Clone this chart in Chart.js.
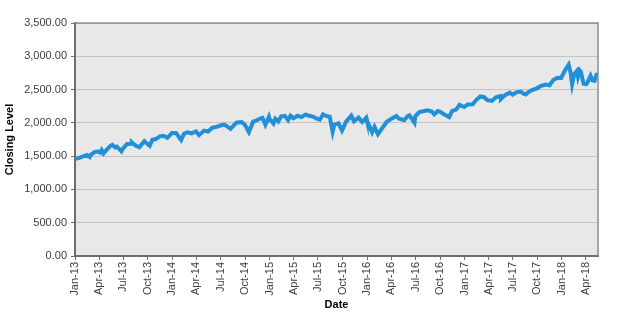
<!DOCTYPE html>
<html>
<head>
<meta charset="utf-8">
<script src="https://cdn.jsdelivr.net/npm/chart.js@4"></script>
<style>
  html, body { margin: 0; padding: 0; background: #fff; }
  #wrap { width: 622px; height: 320px; }
</style>
</head>
<body>
<div id="wrap"><canvas id="myChart"></canvas></div>
<script>
const dates = [
  "2013-01-02", "2013-01-15", "2013-01-31", "2013-02-15", "2013-02-25", "2013-02-28",
  "2013-03-15", "2013-03-28", "2013-04-05", "2013-04-11", "2013-04-18", "2013-04-30",
  "2013-05-15", "2013-05-21", "2013-05-31", "2013-06-07", "2013-06-24", "2013-06-28",
  "2013-07-15", "2013-07-31", "2013-08-02", "2013-08-15", "2013-08-30", "2013-09-18",
  "2013-09-30", "2013-10-08", "2013-10-18", "2013-10-31", "2013-11-15", "2013-11-29",
  "2013-12-13", "2013-12-31",
  "2014-01-15", "2014-02-03", "2014-02-14", "2014-02-28", "2014-03-14", "2014-03-31",
  "2014-04-11", "2014-04-30", "2014-05-15", "2014-05-30", "2014-06-13", "2014-06-30",
  "2014-07-15", "2014-07-31", "2014-08-07", "2014-08-29", "2014-09-18", "2014-09-30",
  "2014-10-15", "2014-10-31", "2014-11-14", "2014-11-28", "2014-12-05", "2014-12-16",
  "2014-12-29", "2014-12-31",
  "2015-01-15", "2015-01-22", "2015-02-02", "2015-02-13", "2015-02-27", "2015-03-11",
  "2015-03-20", "2015-03-31", "2015-04-15", "2015-04-30", "2015-05-15", "2015-05-29",
  "2015-06-12", "2015-06-29", "2015-07-08", "2015-07-20", "2015-07-31", "2015-08-14",
  "2015-08-25", "2015-08-31", "2015-09-16", "2015-09-29", "2015-10-15", "2015-11-03",
  "2015-11-13", "2015-11-30", "2015-12-14", "2015-12-29", "2015-12-31",
  "2016-01-20", "2016-01-29", "2016-02-11", "2016-02-29", "2016-03-15", "2016-03-31",
  "2016-04-20", "2016-04-29", "2016-05-19", "2016-05-31", "2016-06-08", "2016-06-27",
  "2016-06-30", "2016-07-15", "2016-07-29", "2016-08-15", "2016-08-31", "2016-09-09",
  "2016-09-22", "2016-09-30", "2016-10-14", "2016-11-04", "2016-11-15", "2016-11-30",
  "2016-12-13", "2016-12-30",
  "2017-01-13", "2017-01-31", "2017-02-15", "2017-03-01", "2017-03-15", "2017-03-27",
  "2017-04-13", "2017-04-28", "2017-05-15", "2017-05-17", "2017-05-31", "2017-06-19",
  "2017-06-30", "2017-07-14", "2017-07-31", "2017-08-10", "2017-08-18", "2017-08-31",
  "2017-09-15", "2017-09-29", "2017-10-13", "2017-10-31", "2017-11-15", "2017-11-30",
  "2017-12-15", "2017-12-29",
  "2018-01-12", "2018-01-26", "2018-02-02", "2018-02-08", "2018-02-16", "2018-02-26",
  "2018-03-02", "2018-03-09", "2018-03-13", "2018-03-23", "2018-04-02", "2018-04-06",
  "2018-04-18", "2018-04-25", "2018-05-03", "2018-05-10", "2018-05-16"
];

const closes = [
  1462, 1472, 1498, 1519, 1488, 1515,
  1560, 1569, 1553, 1593, 1541, 1597,
  1658, 1669, 1631, 1643, 1573, 1606,
  1683, 1686, 1709, 1661, 1633, 1725,
  1682, 1656, 1745, 1757, 1798, 1806,
  1775, 1848,
  1848, 1742, 1838, 1859, 1841, 1872,
  1815, 1884, 1870, 1924, 1937, 1960,
  1973, 1931, 1910, 2003, 2011, 1972,
  1862, 2018, 2039, 2068, 2075, 1972,
  2090, 2059,
  1992, 2063, 2021, 2097, 2105, 2040,
  2108, 2068, 2106, 2086, 2123, 2107,
  2094, 2058, 2047, 2128, 2104, 2092,
  1868, 1972, 1995, 1884, 2023, 2109,
  2023, 2080, 2012, 2078, 2044,
  1859, 1940, 1829, 1932, 2016, 2060,
  2102, 2065, 2040, 2097, 2112, 2001,
  2099, 2162, 2174, 2190, 2171, 2128,
  2177, 2168, 2133, 2085, 2180, 2199,
  2272, 2239,
  2275, 2279, 2350, 2396, 2385, 2342,
  2329, 2384, 2402, 2357, 2412, 2453,
  2423, 2459, 2470, 2438, 2426, 2472,
  2500, 2519, 2553, 2575, 2565, 2648,
  2676, 2674,
  2786, 2873, 2762, 2581, 2732, 2780,
  2691, 2786, 2766, 2588, 2582, 2604,
  2708, 2639, 2630, 2723, 2722
];

const tickDates = [
  "2013-01-01", "2013-04-01", "2013-07-01", "2013-10-01",
  "2014-01-01", "2014-04-01", "2014-07-01", "2014-10-01",
  "2015-01-01", "2015-04-01", "2015-07-01", "2015-10-01",
  "2016-01-01", "2016-04-01", "2016-07-01", "2016-10-01",
  "2017-01-01", "2017-04-01", "2017-07-01", "2017-10-01",
  "2018-01-01", "2018-04-01"
];

const tickLabels = [
  "Jan-13", "Apr-13", "Jul-13", "Oct-13",
  "Jan-14", "Apr-14", "Jul-14", "Oct-14",
  "Jan-15", "Apr-15", "Jul-15", "Oct-15",
  "Jan-16", "Apr-16", "Jul-16", "Oct-16",
  "Jan-17", "Apr-17", "Jul-17", "Oct-17",
  "Jan-18", "Apr-18"
];

// days since 1 Jan 2013
const dayNum = (s) => (Date.parse(s + "T00:00:00Z") - Date.parse("2013-01-01T00:00:00Z")) / 86400000;

const points = dates.map((d, i) => ({ x: dayNum(d), y: closes[i] }));
const tickPos = tickDates.map(dayNum);

const font = { family: "'Liberation Sans', Arial, sans-serif", size: 11 };

const plotBg = {
  id: "plotBg",
  beforeDraw(chart) {
    const { ctx, chartArea: a } = chart;
    ctx.save();
    ctx.fillStyle = "#e8e8e8";
    ctx.fillRect(a.left, a.top, a.right - a.left, a.bottom - a.top);
    ctx.restore();
  },
  afterDraw(chart) {
    const { ctx, chartArea: a } = chart;
    ctx.save();
    ctx.strokeStyle = "#8c8c8c";
    ctx.lineWidth = 1.5;
    ctx.beginPath();
    ctx.moveTo(a.left, a.top);
    ctx.lineTo(a.right, a.top);
    ctx.lineTo(a.right, a.bottom);
    ctx.stroke();
    ctx.restore();
  }
};

const ctx = document.getElementById("myChart");

new Chart(ctx, {
  type: "line",
  data: {
    datasets: [
      {
        label: "Closing Level",
        data: points,
        borderColor: "#2190d6",
        borderWidth: 4,
        pointRadius: 0,
        tension: 0,
        clip: 4,
      },
    ],
  },
  options: {
    responsive: true,
    maintainAspectRatio: false,
    animation: false,
    layout: { padding: { left: 0, right: 24, top: 23, bottom: 0 } },
    plugins: {
      legend: { display: false },
      tooltip: { enabled: false },
    },
    scales: {
      x: {
        type: "linear",
        min: 0,
        max: dayNum("2018-05-16"),
        afterBuildTicks(scale) {
          scale.ticks = tickPos.map((v) => ({ value: v }));
        },
        afterFit(scale) {
          scale.height = 64;
        },
        ticks: {
          autoSkip: false,
          minRotation: 90,
          maxRotation: 90,
          padding: 2,
          color: "#404040",
          font: font,
          callback: (v) => {
            const i = tickPos.indexOf(v);
            return i >= 0 ? tickLabels[i] : "";
          },
        },
        grid: {
          drawOnChartArea: false,
          drawTicks: true,
          tickLength: 4,
          tickColor: "#6e6e6e",
        },
        border: { color: "#6e6e6e", width: 2 },
        title: {
          display: true,
          text: "Date",
          color: "#000",
          font: { family: font.family, size: 11, weight: "bold" },
          padding: { top: 4, bottom: 8 },
        },
      },
      y: {
        min: 0,
        max: 3500,
        afterFit(scale) {
          scale.width = 75;
        },
        ticks: {
          stepSize: 500,
          padding: 4,
          color: "#404040",
          font: font,
          callback: (v) =>
            v.toLocaleString("en-US", { minimumFractionDigits: 2, maximumFractionDigits: 2 }),
        },
        grid: {
          color: "#c4c4c4",
          lineWidth: 1,
          tickLength: 4,
          tickColor: "#6e6e6e",
        },
        border: { color: "#6e6e6e", width: 2 },
        title: {
          display: true,
          text: "Closing Level",
          color: "#000",
          font: { family: font.family, size: 11, weight: "bold" },
          padding: { top: 3, bottom: 3 },
        },
      },
    },
  },
  plugins: [plotBg],
});
</script>
</body>
</html>
